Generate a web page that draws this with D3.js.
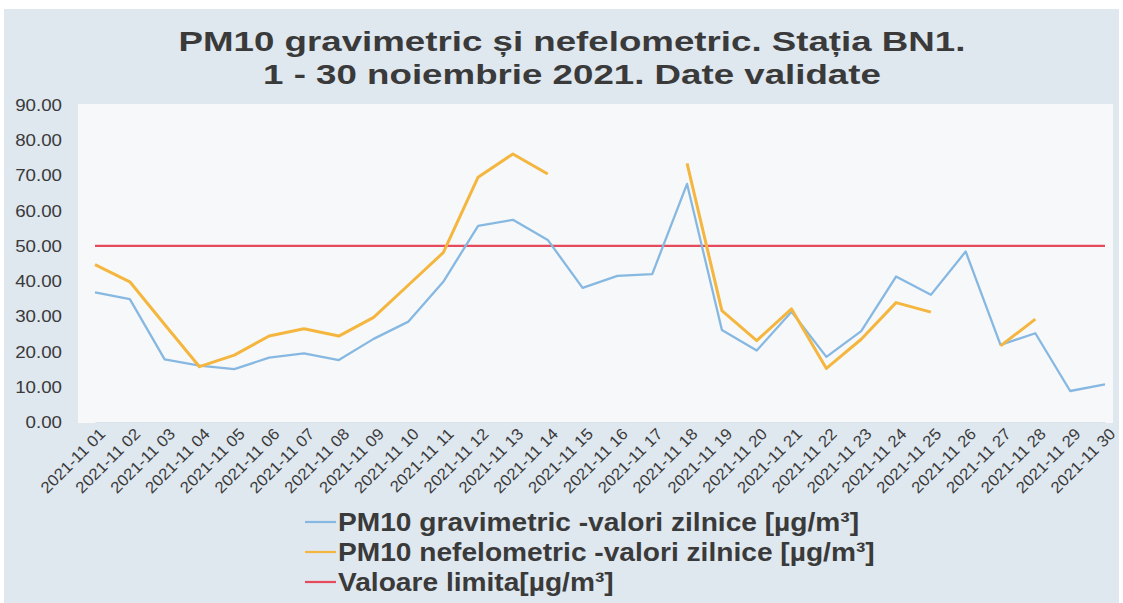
<!DOCTYPE html>
<html>
<head>
<meta charset="utf-8">
<script src="https://cdn.jsdelivr.net/npm/d3@7"></script>
<style>
  html, body { margin: 0; padding: 0; background: #ffffff; }
  svg { display: block; }
  text { font-family: "Liberation Sans", Arial, sans-serif; }
</style>
</head>
<body>
<svg id="chart" width="1123" height="603"></svg>
<script>
const days = ["2021-11 01","2021-11 02","2021-11 03","2021-11 04","2021-11 05","2021-11 06","2021-11 07","2021-11 08","2021-11 09","2021-11 10","2021-11 11","2021-11 12","2021-11 13","2021-11 14","2021-11 15","2021-11 16","2021-11 17","2021-11 18","2021-11 19","2021-11 20","2021-11 21","2021-11 22","2021-11 23","2021-11 24","2021-11 25","2021-11 26","2021-11 27","2021-11 28","2021-11 29","2021-11 30"];
const gravimetric = [36.8, 34.9, 17.8, 16.0, 15.0, 18.3, 19.5, 17.6, 23.6, 28.5, 39.8, 55.7, 57.4, 51.7, 38.1, 41.5, 42.0, 67.6, 26.1, 20.3, 31.3, 18.5, 25.8, 41.3, 36.1, 48.4, 21.9, 25.2, 8.8, 10.7];
const nefelometric = [44.7, 39.8, 27.7, 15.7, 19.0, 24.4, 26.5, 24.4, 29.7, 38.9, 48.1, 69.5, 76.1, 70.4, null, null, null, 73.4, 31.6, 23.1, 32.1, 15.2, 23.5, 33.9, 31.2, null, 21.6, 29.2, null, null];
const limita = [50,50,50,50,50,50,50,50,50,50,50,50,50,50,50,50,50,50,50,50,50,50,50,50,50,50,50,50,50,50];
const yTicks = [0, 10, 20, 30, 40, 50, 60, 70, 80, 90];
const titleLines = ["PM10 gravimetric și nefelometric. Stația BN1.", "1 - 30 noiembrie 2021. Date validate"];
const legendLabels = ["PM10 gravimetric -valori zilnice [µg/m³]", "PM10 nefelometric -valori zilnice [µg/m³]", "Valoare limita[µg/m³]"];

const colors = { grav: "#86b8e2", nef: "#f4b63f", lim: "#e64a5d" };
const svg = d3.select("#chart");

function stretch(sel, k) {
  sel.each(function() {
    const len = this.getComputedTextLength();
    d3.select(this).attr("textLength", len * k).attr("lengthAdjust", "spacingAndGlyphs");
  });
}

// chart area background
svg.append("rect").attr("x", 4).attr("y", 9).attr("width", 1115).attr("height", 594).attr("fill", "#dfe7ef");
// plot area
svg.append("rect").attr("x", 78).attr("y", 104).attr("width", 1035).attr("height", 319).attr("fill", "#f7f8f9");

const x = d3.scalePoint().domain(days).range([95, 1105]);
const y = d3.scaleLinear().domain([0, 90]).range([422, 105]);

// title
const title = svg.append("g").attr("fill", "#3a3a3a").attr("font-weight", "bold").attr("font-size", 28).attr("text-anchor", "middle");
title.selectAll("text").data(titleLines).join("text")
  .attr("x", 572).attr("y", (d, i) => 51 + i * 33).text(d => d)
  .call(stretch, 1.31);

// y axis
const yAxis = svg.append("g").attr("transform", "translate(78,0)")
  .call(d3.axisLeft(y).tickValues(yTicks).tickFormat(d3.format(".2f")).tickSize(0).tickPadding(16));
yAxis.select(".domain").remove();
yAxis.selectAll("text").attr("font-size", 17).attr("fill", "#3a3a3a").attr("font-family", "Liberation Sans, Arial, sans-serif")
  .call(stretch, 1.1);

// x axis
const xAxis = svg.append("g").attr("transform", "translate(0,422)")
  .call(d3.axisBottom(x).tickSize(0));
xAxis.select(".domain").attr("stroke", "#dbe2ea");
xAxis.selectAll("text")
  .attr("font-size", 16).attr("fill", "#3a3a3a").attr("font-family", "Liberation Sans, Arial, sans-serif")
  .attr("text-anchor", "end")
  .attr("dy", "0.35em").attr("y", 0)
  .attr("transform", "translate(7,9) rotate(-45)")
  .call(stretch, 1.05);

// lines
const line = d3.line().defined(d => d.v !== null).x(d => x(d.day)).y(d => y(d.v));
const series = [
  { key: "lim", vals: limita, w: 2.2 },
  { key: "grav", vals: gravimetric, w: 2.3 },
  { key: "nef", vals: nefelometric, w: 3 }
];
series.forEach(s => {
  svg.append("path")
    .datum(s.vals.map((v, i) => ({ day: days[i], v: v })))
    .attr("fill", "none").attr("stroke", colors[s.key]).attr("stroke-width", s.w)
    .attr("stroke-linejoin", "round").attr("stroke-linecap", "butt")
    .attr("d", line);
});

// legend
const legKeys = ["grav", "nef", "lim"];
const leg = svg.append("g");
legKeys.forEach((k, i) => {
  const cy = 522 + i * 30;
  leg.append("line").attr("x1", 305).attr("x2", 336).attr("y1", cy).attr("y2", cy)
    .attr("stroke", colors[k]).attr("stroke-width", 2.2);
  leg.append("text").attr("x", 338).attr("y", cy + 9)
    .attr("font-size", 25).attr("font-weight", "bold").attr("fill", "#3a3a3a")
    .text(legendLabels[i]).call(stretch, 1.125);
});
</script>
</body>
</html>
